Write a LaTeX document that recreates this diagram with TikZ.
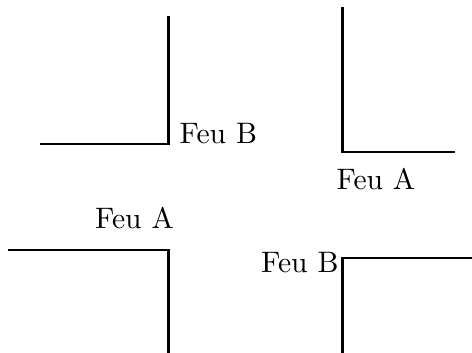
\documentclass[tikz,border=0pt]{standalone}
\begin{document}
\begin{tikzpicture}[thick]

  \pgfmathsetmacro{\xg}{2}      % left road edge
  \pgfmathsetmacro{\xd}{4.063}  % right road edge

  \useasboundingbox (0,0) rectangle (5.6,4.187);

  % Top left corner
  \coordinate (hg) at (\xg,2.479);
  \draw (0.474,2.479) -- (hg) -- (\xg,4);
  \node[anchor=base west] (feuBhaut) at (hg) {Feu B};

  % Top right corner
  \coordinate (hd) at (\xd,2.384);
  \draw (\xd,4.104) -- (hd) -- (5.397,2.384);
  \node[anchor=base] (feuAhaut) at (4.46,1.933) {Feu A};

  % Bottom left corner
  \coordinate (bg) at (\xg,1.222);
  \draw (0.095,1.222) -- (bg) -- (\xg,0);
  \node[anchor=base] (feuAbas) at (1.595,1.471) {Feu A};

  % Bottom right corner
  \coordinate (bd) at (\xd,1.127);
  \draw (5.6,1.127) -- (bd) -- (\xd,0);
  \node[anchor=base east, inner sep=0pt] (feuBbas) at (4.03,0.952) {Feu B};

\end{tikzpicture}
\end{document}
